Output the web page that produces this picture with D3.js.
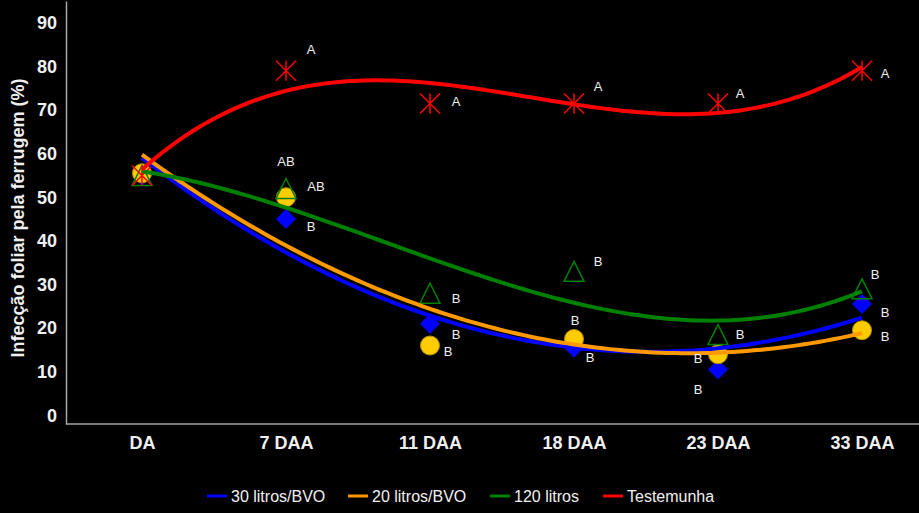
<!DOCTYPE html>
<html><head><meta charset="utf-8">
<script src="https://cdn.jsdelivr.net/npm/d3@7"></script>
<style>html,body{margin:0;padding:0;background:#000;}svg{display:block;}</style>
</head><body>
<script>
const categories = ["DA", "7 DAA", "11 DAA", "18 DAA", "23 DAA", "33 DAA"];
const yTicks = [0, 10, 20, 30, 40, 50, 60, 70, 80, 90];
const seriesNames = ["30 litros/BVO", "20 litros/BVO", "120 litros", "Testemunha"];
const litros30 = [55, 45, 21, 15.5, 10.5, 25.5];
const litros20 = [55.5, 50, 16, 17.5, 14, 19.5];
const litros120 = [55, 52, 28, 33, 18.5, 29];
const testemunha = [55, 79, 71.5, 71.5, 71.5, 79];
const trendOrders = [2, 2, 3, 3];
const letras30 = ["", "B", "B", "B", "B", "B"];
const letras20 = ["", "AB", "B", "B", "B", "B"];
const letras120 = ["", "AB", "B", "B", "B", "B"];
const letrasTest = ["", "A", "A", "A", "A", "A"];

const W = 919, H = 513;
const svg = d3.select("body").append("svg").attr("width", W).attr("height", H)
  .style("background", "#000").style("font-family", "'Liberation Sans', Arial, sans-serif");
svg.append("rect").attr("width", W).attr("height", H).attr("fill", "#000");

const x = d3.scalePoint().domain(categories).range([142, 862]);
const y = d3.scaleLinear().domain([-2, 95]).range([424, 1]);

// least squares polynomial fit (Excel-style polynomial trendline)
function polyfit(ys, deg) {
  const n = deg + 1, A = [], b = [];
  for (let i = 0; i < n; i++) { A.push(new Array(n).fill(0)); b.push(0); }
  ys.forEach((v, k) => {
    const xv = k + 1;
    for (let i = 0; i < n; i++) {
      b[i] += v * Math.pow(xv, i);
      for (let j = 0; j < n; j++) A[i][j] += Math.pow(xv, i + j);
    }
  });
  for (let i = 0; i < n; i++) {
    let p = i; for (let r = i + 1; r < n; r++) if (Math.abs(A[r][i]) > Math.abs(A[p][i])) p = r;
    [A[i], A[p]] = [A[p], A[i]]; [b[i], b[p]] = [b[p], b[i]];
    for (let r = i + 1; r < n; r++) {
      const f = A[r][i] / A[i][i];
      for (let c = i; c < n; c++) A[r][c] -= f * A[i][c];
      b[r] -= f * b[i];
    }
  }
  const c = new Array(n).fill(0);
  for (let i = n - 1; i >= 0; i--) {
    let s = b[i]; for (let j = i + 1; j < n; j++) s -= A[i][j] * c[j];
    c[i] = s / A[i][i];
  }
  return c;
}

const step = x.step();
const xc = t => x(categories[0]) + (t - 1) * step;

const series = [
  { name: seriesNames[0], values: litros30, letters: letras30, color: "#0000ff", marker: "diamond",
    off: [[0,0],[25,7],[26,11],[16,10],[-20,20],[23,8]] },
  { name: seriesNames[1], values: litros20, letters: letras20, color: "#ff9900", marker: "circle",
    off: [[0,0],[30,-11],[18,6],[1,-18],[-20,4],[23,6]] },
  { name: seriesNames[2], values: litros120, letters: letras120, color: "#008000", marker: "triangle",
    off: [[0,0],[0,-27],[26,5],[24,-10],[22,0],[13,-14]] },
  { name: seriesNames[3], values: testemunha, letters: letrasTest, color: "#ff0000", marker: "star",
    off: [[0,0],[25,-21],[26,-2],[24,-17],[22,-10],[23,3]] }
];

// axes
const yAxis = svg.append("g").attr("transform", "translate(66,0)")
  .call(d3.axisLeft(y).tickValues(yTicks).tickSize(0).tickPadding(9));
yAxis.select(".domain").attr("stroke", "#a6a6a6").attr("stroke-width", 1.5);
yAxis.selectAll("text").attr("fill", "#f0f0f0").style("font-size", "18px").style("font-weight", "bold")
  .style("font-family", "'Liberation Sans', Arial, sans-serif");

svg.append("line").attr("x1", 66).attr("x2", W).attr("y1", 424).attr("y2", 424)
  .attr("stroke", "#a6a6a6").attr("stroke-width", 1.5);
const xAxis = svg.append("g").attr("transform", "translate(0,424)")
  .call(d3.axisBottom(x).tickSize(0).tickPadding(12));
xAxis.select(".domain").remove();
xAxis.selectAll("text").attr("fill", "#f0f0f0").style("font-size", "18px").style("font-weight", "bold")
  .style("font-family", "'Liberation Sans', Arial, sans-serif");

svg.append("text").attr("transform", "translate(24,218) rotate(-90)")
  .attr("text-anchor", "middle").attr("fill", "#f0f0f0")
  .style("font-size", "18px").style("font-weight", "bold")
  .text("Infecção foliar pela ferrugem (%)");

// markers
const mk = svg.append("g");
function drawMarker(g, type, cx, cy) {
  if (type === "diamond") {
    g.append("path").attr("d", `M${cx},${cy-10}L${cx+10},${cy}L${cx},${cy+10}L${cx-10},${cy}Z`).attr("fill", "#0000ff");
  } else if (type === "circle") {
    g.append("circle").attr("cx", cx).attr("cy", cy).attr("r", 9.5).attr("fill", "#ffcc00")
      .attr("stroke", "#b38f00").attr("stroke-width", 1);
  } else if (type === "triangle") {
    g.append("path").attr("d", `M${cx},${cy-10}L${cx+10},${cy+10}L${cx-10},${cy+10}Z`)
      .attr("fill", "none").attr("stroke", "#008000").attr("stroke-width", 1.5);
  } else if (type === "star") {
    g.append("path").attr("d", `M${cx},${cy-10}V${cy+10}M${cx-10},${cy-10}L${cx+10},${cy+10}M${cx+10},${cy-10}L${cx-10},${cy+10}`)
      .attr("stroke", "#ff0000").attr("stroke-width", 1.5).attr("fill", "none");
  }
}
series.forEach(s => {
  s.values.forEach((v, i) => drawMarker(mk, s.marker, x(categories[i]), y(v)));
});

// trendlines
const lg = svg.append("g");
series.forEach((s, si) => {
  const c = polyfit(s.values, trendOrders[si]);
  const f = t => c.reduce((acc, ci, k) => acc + ci * Math.pow(t, k), 0);
  const pts = d3.range(1, 6.0001, 0.05).map(t => [xc(t), y(f(t))]);
  lg.append("path").attr("d", d3.line()(pts)).attr("fill", "none")
    .attr("stroke", s.color).attr("stroke-width", 4);
});

// letters
const tg = svg.append("g");
series.forEach(s => {
  s.letters.forEach((l, i) => {
    if (!l) return;
    tg.append("text").attr("x", x(categories[i]) + s.off[i][0]).attr("y", y(s.values[i]) + s.off[i][1])
      .attr("text-anchor", "middle").attr("dominant-baseline", "central")
      .attr("fill", "#f0f0f0").style("font-size", "13px").text(l);
  });
});

// legend
const legX = [207, 348, 490, 603];
const leg = svg.append("g");
series.forEach((s, i) => {
  leg.append("line").attr("x1", legX[i]).attr("x2", legX[i] + 20).attr("y1", 496).attr("y2", 496)
    .attr("stroke", s.color).attr("stroke-width", 3);
  leg.append("text").attr("x", legX[i] + 24).attr("y", 496).attr("dominant-baseline", "central")
    .attr("fill", "#f0f0f0").style("font-size", "16px").text(s.name);
});
</script>
</body></html>
